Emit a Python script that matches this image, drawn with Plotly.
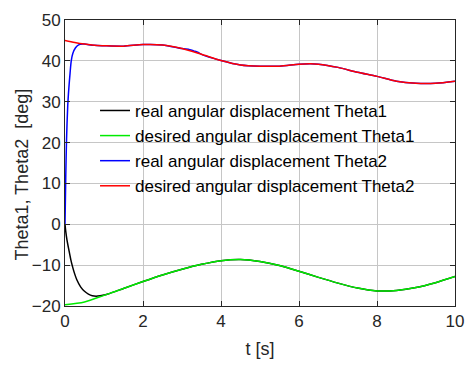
import plotly.graph_objects as go

# ---- data ----
t_theta1_real = [0, 0.02, 0.05, 0.1, 0.15, 0.2, 0.25, 0.3, 0.4, 0.5, 0.6, 0.7, 0.8, 0.9, 1.0, 1.1,
                 1.5, 2, 2.5, 3, 3.5, 4, 4.5, 5, 5.5, 6, 6.5, 7, 7.5, 8, 8.5, 9, 9.5, 10]
theta1_real = [0, -1.8, -3.8, -6.3, -8.7, -10.6, -12.2, -13.5, -15.3, -16.4, -17.1, -17.5, -17.6, -17.5,
               -17.3, -17.05, -15.7, -14.0, -12.4, -11.0, -9.8, -8.9, -8.6, -9.1, -10.1, -11.5, -13.0,
               -14.4, -15.6, -16.3, -16.2, -15.5, -14.3, -12.8]

t_theta1_des = [0, 0.5, 1, 1.5, 2, 2.5, 3, 3.5, 4, 4.5, 5, 5.5, 6, 6.5, 7, 7.5, 8, 8.5, 9, 9.5, 10]
theta1_des = [-19.7, -19.0, -17.4, -15.7, -14.0, -12.4, -11.0, -9.8, -8.9, -8.6, -9.1, -10.1, -11.5,
              -13.0, -14.4, -15.6, -16.3, -16.2, -15.5, -14.3, -12.8]

t_theta2_real = [0, 0.02, 0.04, 0.07, 0.1, 0.13, 0.16, 0.2, 0.27, 0.35, 0.45, 0.5, 0.75, 1, 1.5, 2,
                 2.5, 3, 3.2, 3.3, 3.4, 3.5, 4, 4.5, 5, 5.5, 6, 6.3, 6.5, 7, 7.5, 8, 8.5, 9, 9.5, 10]
theta2_real = [0, 12, 21, 29, 33.5, 37, 40, 41.8, 43.2, 43.9, 44.1, 44.1, 43.8, 43.7, 43.6, 44.0,
               43.9, 43.0, 42.75, 42.45, 42.15, 41.6, 40.1, 39.0, 38.7, 38.7, 39.2, 39.3, 39.2,
               38.4, 37.2, 36.2, 35.0, 34.5, 34.5, 35.0]

t_theta2_des = [0, 0.25, 0.5, 0.75, 1, 1.5, 2, 2.5, 3, 3.5, 4, 4.5, 5, 5.5, 6, 6.3, 6.5, 7, 7.5, 8,
                8.5, 9, 9.5, 10]
theta2_des = [45.0, 44.5, 44.1, 43.8, 43.7, 43.6, 44.0, 43.9, 43.0, 41.6, 40.1, 39.0, 38.7, 38.7,
              39.2, 39.3, 39.2, 38.4, 37.2, 36.2, 35.0, 34.5, 34.5, 35.0]

names = ["real angular displacement Theta1", "desired angular displacement Theta1",
         "real angular displacement Theta2", "desired angular displacement Theta2"]
colors = ["#000000", "rgb(0,235,0)", "#0000ff", "#ff0000"]

x_ticks = [0, 2, 4, 6, 8, 10]
y_ticks = [-20, -10, 0, 10, 20, 30, 40, 50]
x_title = "t [s]"
y_title = "Theta1, Theta2  [deg]"

fig = go.Figure()
series = [(t_theta1_real, theta1_real), (t_theta1_des, theta1_des),
          (t_theta2_real, theta2_real), (t_theta2_des, theta2_des)]
for (tx, ty), nm, c in zip(series, names, colors):
    fig.add_trace(go.Scatter(x=tx, y=ty, mode="lines", name=nm,
                             line=dict(color=c, width=1.5, shape="spline", smoothing=0.8)))

font = "Liberation Sans, Arial, sans-serif"
axis_common = dict(showline=True, linecolor="#262626", linewidth=1, mirror="ticks",
                   ticks="inside", ticklen=5, tickcolor="#262626",
                   showgrid=True, gridcolor="#c6c6c6", gridwidth=1, zeroline=False,
                   tickfont=dict(family=font, size=17, color="#262626"))

fig.update_layout(
    width=475, height=366,
    margin=dict(l=65, r=15, t=11, b=58),
    paper_bgcolor="white", plot_bgcolor="white",
    font=dict(family=font, size=17, color="#262626"),
    xaxis=dict(range=[0, 10], tickvals=x_ticks,
               title=dict(text=x_title, font=dict(size=18), standoff=11), **axis_common),
    yaxis=dict(range=[-20, 50], tickvals=y_ticks, **axis_common),
    legend=dict(x=0.077, y=0.745, xanchor="left", yanchor="top", bgcolor="rgba(0,0,0,0)",
                borderwidth=0, font=dict(family=font, size=17, color="#000000"),
                itemwidth=30, tracegroupgap=0),
    showlegend=True,
)

fig.add_annotation(text=y_title, textangle=-90, xref="paper", yref="paper",
                   x=(21 - 65) / 395, y=1 - (172 - 11) / 297, showarrow=False,
                   xanchor="center", yanchor="middle",
                   font=dict(family=font, size=18, color="#262626"))

fig.write_html("out.html")
